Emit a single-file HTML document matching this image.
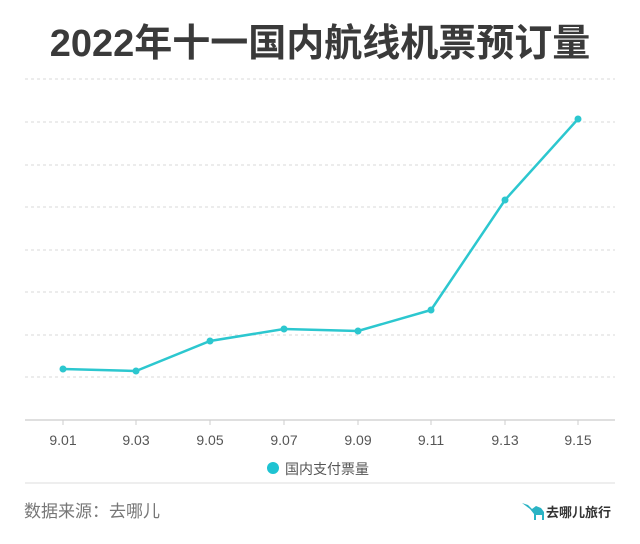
<!DOCTYPE html>
<html><head><meta charset="utf-8"><style>
body{margin:0;width:640px;height:544px;background:#fff;overflow:hidden;font-family:"Liberation Sans","Noto Sans CJK SC",sans-serif}
</style></head><body>
<svg width="640" height="544" xmlns="http://www.w3.org/2000/svg" style="position:absolute;left:0;top:0">
<text x="320" y="56" text-anchor="middle" font-size="38" font-weight="bold" fill="#3a3a3a" font-family="Liberation Sans,Noto Sans CJK SC,sans-serif">2022年十一国内航线机票预订量</text>
<g stroke="#d8d8d8" stroke-width="1" stroke-dasharray="3,3">
<line x1="25" x2="615" y1="79" y2="79"/><line x1="25" x2="615" y1="122" y2="122"/>
<line x1="25" x2="615" y1="165" y2="165"/><line x1="25" x2="615" y1="207" y2="207"/>
<line x1="25" x2="615" y1="250" y2="250"/><line x1="25" x2="615" y1="292" y2="292"/>
<line x1="25" x2="615" y1="335" y2="335"/><line x1="25" x2="615" y1="377" y2="377"/>
</g>
<line x1="25" x2="615" y1="420" y2="420" stroke="#ccc" stroke-width="1.2"/>
<g stroke="#ccc"><line x1="63" x2="63" y1="420" y2="425"/><line x1="136" x2="136" y1="420" y2="425"/><line x1="210" x2="210" y1="420" y2="425"/><line x1="284" x2="284" y1="420" y2="425"/><line x1="358" x2="358" y1="420" y2="425"/><line x1="431" x2="431" y1="420" y2="425"/><line x1="505" x2="505" y1="420" y2="425"/><line x1="578" x2="578" y1="420" y2="425"/></g>
<g font-size="14" fill="#555" text-anchor="middle">
<text x="63" y="445">9.01</text><text x="136" y="445">9.03</text><text x="210" y="445">9.05</text><text x="284" y="445">9.07</text><text x="358" y="445">9.09</text><text x="431" y="445">9.11</text><text x="505" y="445">9.13</text><text x="578" y="445">9.15</text>
</g>
<polyline fill="none" stroke="#2cc7cf" stroke-width="2.5" points="63,369 136,371 210,341 284,329 358,331 431,310 505,200 578,119"/>
<g fill="#2cc7cf"><circle cx="63" cy="369" r="3.5"/><circle cx="136" cy="371" r="3.5"/><circle cx="210" cy="341" r="3.5"/><circle cx="284" cy="329" r="3.5"/><circle cx="358" cy="331" r="3.5"/><circle cx="431" cy="310" r="3.5"/><circle cx="505" cy="200" r="3.5"/><circle cx="578" cy="119" r="3.5"/></g>
<circle cx="273" cy="468" r="6" fill="#1ec3d2"/>
<text x="285" y="474" font-size="14" fill="#555">国内支付票量</text>
<line x1="25" x2="615" y1="483" y2="483" stroke="#ddd"/>
<text x="24" y="517" font-size="17" fill="#777">数据来源：去哪儿</text>
<path d="M522,503 l6,2 l4,4 l4,-3 l5,2 l3,4 l0,8 l-2,0 l0,-5 l-6,0 l0,5 l-2,0 l0,-6 l-4,-5 l-4,-3 z" fill="#2ab3c4"/>
<text x="546" y="517" font-size="13" font-weight="bold" fill="#333">去哪儿旅行</text>
</svg>
</body></html>
